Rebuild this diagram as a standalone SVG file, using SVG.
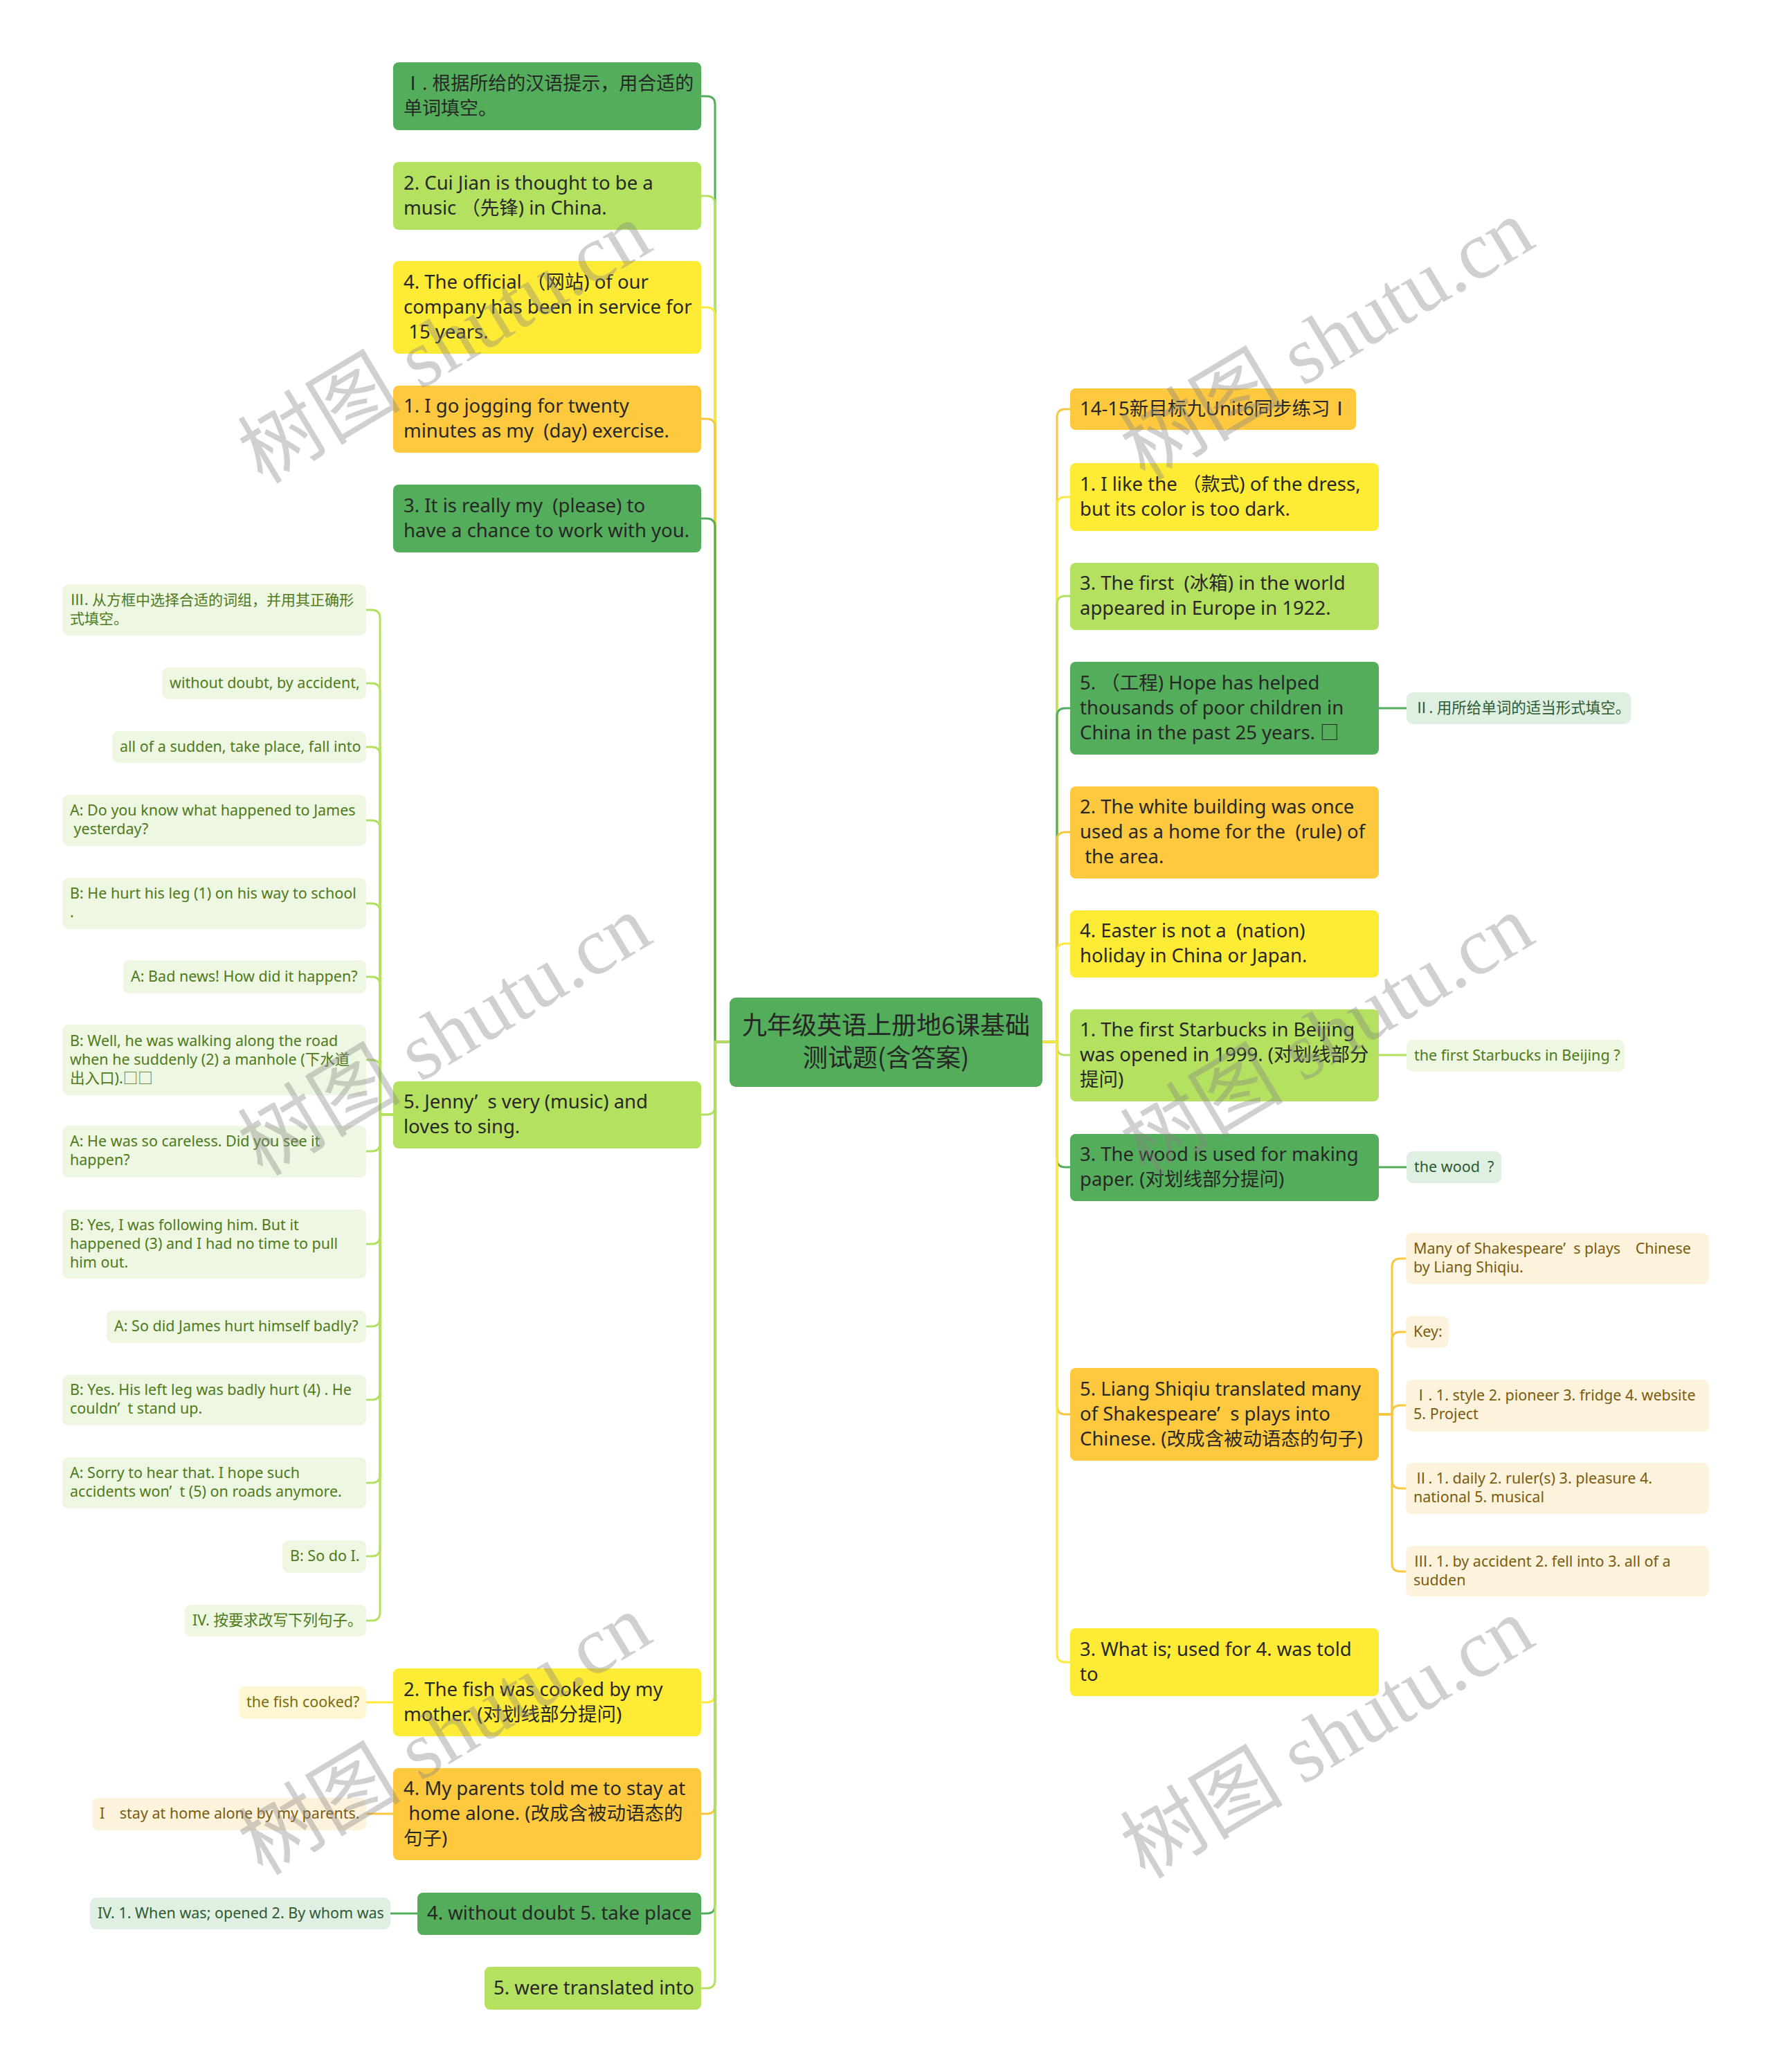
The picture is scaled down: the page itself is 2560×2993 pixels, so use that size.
<svg xmlns="http://www.w3.org/2000/svg" width="2560" height="2993" viewBox="0 0 2560 2993">
<style>
.bgG{fill:#53ad5b}.bgLG{fill:#b4e15f}.bgY{fill:#feeb35}.bgO{fill:#fec93f}
.m{font-family:"Noto Sans","Noto Sans CJK SC",sans-serif;font-size:27.5px;fill:#272727}
.root{font-family:"Noto Sans CJK SC","Noto Sans",sans-serif;font-size:36px;fill:#262626}
.lf{font-family:"Noto Sans","Noto Sans CJK SC",sans-serif;font-size:21.5px}
.cj{font-family:"Noto Sans CJK SC",sans-serif}
.lLG{fill:#eef7e1}.tLG{fill:#4e7a1b}
.lG{fill:#dfefe1}.tG{fill:#2e5b31}
.lY{fill:#fdf8d3}.tY{fill:#7a6b0e}
.lO{fill:#fdf3dc}.tO{fill:#7b5b10}
.c{fill:none;stroke-width:3;stroke-linecap:round}
.cG{stroke:#53ad5b}.cLG{stroke:#b4e15f}.cY{stroke:#fde93a}.cO{stroke:#f9c641}
.wm{font-family:"Liberation Serif","Noto Sans CJK SC",serif;font-size:118px;fill:#858585;opacity:0.38}
</style>
<rect width="2560" height="2993" fill="#ffffff"/>
<g id="connectors">
<path class="c cG" d="M1054 1505 H1033 V151 Q1033 139 1021 139 H1013"/>
<path class="c cLG" d="M1054 1505 H1033 V295 Q1033 283 1021 283 H1013"/>
<path class="c cY" d="M1054 1505 H1033 V456 Q1033 444 1021 444 H1013"/>
<path class="c cO" d="M1054 1505 H1033 V617 Q1033 605 1021 605 H1013"/>
<path class="c cG" d="M1054 1505 H1033 V761 Q1033 749 1021 749 H1013"/>
<path class="c cLG" d="M1054 1505 H1033 V1598 Q1033 1610 1021 1610 H1013"/>
<path class="c cY" d="M1054 1505 H1033 V2447 Q1033 2459 1021 2459 H1013"/>
<path class="c cO" d="M1054 1505 H1033 V2608 Q1033 2620 1021 2620 H1013"/>
<path class="c cG" d="M1054 1505 H1033 V2752 Q1033 2764 1021 2764 H1013"/>
<path class="c cLG" d="M1054 1505 H1033 V2860 Q1033 2872 1021 2872 H1013"/>
<path class="c cO" d="M1506 1505 H1527 V603 Q1527 591 1539 591 H1546"/>
<path class="c cY" d="M1506 1505 H1527 V730 Q1527 718 1539 718 H1546"/>
<path class="c cLG" d="M1506 1505 H1527 V873 Q1527 861 1539 861 H1546"/>
<path class="c cG" d="M1506 1505 H1527 V1035 Q1527 1023 1539 1023 H1546"/>
<path class="c cO" d="M1506 1505 H1527 V1214 Q1527 1202 1539 1202 H1546"/>
<path class="c cY" d="M1506 1505 H1527 V1375 Q1527 1363 1539 1363 H1546"/>
<path class="c cLG" d="M1506 1505 H1527 V1512 Q1527 1524 1539 1524 H1546"/>
<path class="c cG" d="M1506 1505 H1527 V1674 Q1527 1686 1539 1686 H1546"/>
<path class="c cO" d="M1506 1505 H1527 V2031 Q1527 2043 1539 2043 H1546"/>
<path class="c cY" d="M1506 1505 H1527 V2389 Q1527 2401 1539 2401 H1546"/>
<path class="c cLG" d="M568 1610 H549 V893 Q549 881 537 881 H529"/>
<path class="c cLG" d="M568 1610 H549 V999 Q549 987 537 987 H529"/>
<path class="c cLG" d="M568 1610 H549 V1091 Q549 1079 537 1079 H529"/>
<path class="c cLG" d="M568 1610 H549 V1197 Q549 1185 537 1185 H529"/>
<path class="c cLG" d="M568 1610 H549 V1317 Q549 1305 537 1305 H529"/>
<path class="c cLG" d="M568 1610 H549 V1423 Q549 1411 537 1411 H529"/>
<path class="c cLG" d="M568 1610 H549 V1543 Q549 1531 537 1531 H529"/>
<path class="c cLG" d="M568 1610 H549 V1651 Q549 1663 537 1663 H529"/>
<path class="c cLG" d="M568 1610 H549 V1785 Q549 1797 537 1797 H529"/>
<path class="c cLG" d="M568 1610 H549 V1904 Q549 1916 537 1916 H529"/>
<path class="c cLG" d="M568 1610 H549 V2010 Q549 2022 537 2022 H529"/>
<path class="c cLG" d="M568 1610 H549 V2130 Q549 2142 537 2142 H529"/>
<path class="c cLG" d="M568 1610 H549 V2236 Q549 2248 537 2248 H529"/>
<path class="c cLG" d="M568 1610 H549 V2329 Q549 2341 537 2341 H529"/>
<path class="c cG" d="M1992 1023 H2032"/>
<path class="c cLG" d="M1992 1524 H2032"/>
<path class="c cG" d="M1992 1686 H2032"/>
<path class="c cO" d="M1992 2043 H2011 V1830 Q2011 1818 2023 1818 H2031"/>
<path class="c cO" d="M1992 2043 H2011 V1936 Q2011 1924 2023 1924 H2031"/>
<path class="c cO" d="M1992 2043 H2011 V2042 Q2011 2030 2023 2030 H2031"/>
<path class="c cO" d="M1992 2043 H2011 V2138 Q2011 2150 2023 2150 H2031"/>
<path class="c cO" d="M1992 2043 H2011 V2258 Q2011 2270 2023 2270 H2031"/>
<path class="c cY" d="M568 2459 H529"/>
<path class="c cO" d="M568 2620 H529"/>
<path class="c cG" d="M603 2764 H564"/>
</g>
<g id="root"><rect class="bgG" x="1054" y="1441" width="452" height="129" rx="9"/><text class="root" text-anchor="middle"><tspan x="1280" y="1494">九年级英语上册地6课基础</tspan><tspan x="1280" y="1541">测试题(含答案)</tspan></text></g>
<g id="l1"><rect class="bgG" x="568" y="90" width="445" height="98" rx="8"/><text class="m" style="font-size:27px"><tspan x="583" y="130"><tspan class="cj">Ⅰ</tspan>. 根据所给的汉语提示，用合适的</tspan><tspan x="583" y="166">单词填空。</tspan></text></g>
<g id="l2"><rect class="bgLG" x="568" y="234" width="445" height="98" rx="8"/><text class="m"><tspan x="583" y="274">2. Cui Jian is thought to be a</tspan><tspan x="583" y="310">music （先锋) in China.</tspan></text></g>
<g id="l3"><rect class="bgY" x="568" y="377" width="445" height="134" rx="8"/><text class="m"><tspan x="583" y="417">4. The official （网站) of our</tspan><tspan x="583" y="453">company has been in service for</tspan><tspan x="583" y="489">&#160;15 years.</tspan></text></g>
<g id="l4"><rect class="bgO" x="568" y="557" width="445" height="97" rx="8"/><text class="m"><tspan x="583" y="596">1. I go jogging for twenty</tspan><tspan x="583" y="632">minutes as my &#160;(day) exercise.</tspan></text></g>
<g id="l5"><rect class="bgG" x="568" y="700" width="445" height="98" rx="8"/><text class="m"><tspan x="583" y="740">3. It is really my &#160;(please) to</tspan><tspan x="583" y="776">have a chance to work with you.</tspan></text></g>
<g id="l6"><rect class="bgLG" x="568" y="1562" width="445" height="97" rx="8"/><text class="m"><tspan x="583" y="1601">5. Jenny’ &#160;s very (music) and</tspan><tspan x="583" y="1637">loves to sing.</tspan></text></g>
<g id="l7"><rect class="bgY" x="568" y="2410" width="445" height="98" rx="8"/><text class="m"><tspan x="583" y="2450">2. The fish was cooked by my</tspan><tspan x="583" y="2486">mother. (对划线部分提问)</tspan></text></g>
<g id="l8"><rect class="bgO" x="568" y="2554" width="445" height="133" rx="8"/><text class="m"><tspan x="583" y="2593">4. My parents told me to stay at</tspan><tspan x="583" y="2629">&#160;home alone. (改成含被动语态的</tspan><tspan x="583" y="2665">句子)</tspan></text></g>
<g id="l9"><rect class="bgG" x="603" y="2734" width="410" height="61" rx="8"/><text class="m"><tspan x="617" y="2773">4. without doubt 5. take place</tspan></text></g>
<g id="l10"><rect class="bgLG" x="700" y="2841" width="313" height="62" rx="8"/><text class="m"><tspan x="713" y="2881">5. were translated into</tspan></text></g>
<g id="r1"><rect class="bgO" x="1546" y="561" width="413" height="60" rx="8"/><text class="m"><tspan x="1560" y="600">14-15新目标九Unit6同步练习<tspan class="cj">Ⅰ</tspan></tspan></text></g>
<g id="r2"><rect class="bgY" x="1546" y="669" width="446" height="98" rx="8"/><text class="m"><tspan x="1560" y="709">1. I like the （款式) of the dress,</tspan><tspan x="1560" y="745">but its color is too dark.</tspan></text></g>
<g id="r3"><rect class="bgLG" x="1546" y="813" width="446" height="97" rx="8"/><text class="m"><tspan x="1560" y="852">3. The first &#160;(冰箱) in the world</tspan><tspan x="1560" y="888">appeared in Europe in 1922.</tspan></text></g>
<g id="r4"><rect class="bgG" x="1546" y="956" width="446" height="134" rx="8"/><text class="m"><tspan x="1560" y="996">5. （工程) Hope has helped</tspan><tspan x="1560" y="1032">thousands of poor children in</tspan><tspan x="1560" y="1068">China in the past 25 years. □</tspan></text></g>
<g id="r5"><rect class="bgO" x="1546" y="1136" width="446" height="133" rx="8"/><text class="m"><tspan x="1560" y="1175">2. The white building was once</tspan><tspan x="1560" y="1211">used as a home for the &#160;(rule) of</tspan><tspan x="1560" y="1247">&#160;the area.</tspan></text></g>
<g id="r6"><rect class="bgY" x="1546" y="1315" width="446" height="97" rx="8"/><text class="m"><tspan x="1560" y="1354">4. Easter is not a &#160;(nation)</tspan><tspan x="1560" y="1390">holiday in China or Japan.</tspan></text></g>
<g id="r7"><rect class="bgLG" x="1546" y="1458" width="446" height="133" rx="8"/><text class="m"><tspan x="1560" y="1497">1. The first Starbucks in Beijing</tspan><tspan x="1560" y="1533">was opened in 1999. (对划线部分</tspan><tspan x="1560" y="1569">提问)</tspan></text></g>
<g id="r8"><rect class="bgG" x="1546" y="1638" width="446" height="97" rx="8"/><text class="m"><tspan x="1560" y="1677">3. The wood is used for making</tspan><tspan x="1560" y="1713">paper. (对划线部分提问)</tspan></text></g>
<g id="r9"><rect class="bgO" x="1546" y="1976" width="446" height="134" rx="8"/><text class="m"><tspan x="1560" y="2016">5. Liang Shiqiu translated many</tspan><tspan x="1560" y="2052">of Shakespeare’ &#160;s plays into</tspan><tspan x="1560" y="2088">Chinese. (改成含被动语态的句子)</tspan></text></g>
<g id="r10"><rect class="bgY" x="1546" y="2352" width="446" height="98" rx="8"/><text class="m"><tspan x="1560" y="2392">3. What is; used for 4. was told</tspan><tspan x="1560" y="2428">to</tspan></text></g>
<g id="a1"><rect class="lLG" x="90" y="844" width="439" height="74" rx="9"/><text class="lf tLG" style="font-size:21px"><tspan x="101" y="874"><tspan class="cj">Ⅲ</tspan>. 从方框中选择合适的词组，并用其正确形</tspan><tspan x="101" y="901">式填空。</tspan></text></g>
<g id="a2"><rect class="lLG" x="234" y="964" width="295" height="46" rx="9"/><text class="lf tLG"><tspan x="245" y="994">without doubt, by accident,</tspan></text></g>
<g id="a3"><rect class="lLG" x="162" y="1056" width="367" height="46" rx="9"/><text class="lf tLG"><tspan x="173" y="1086">all of a sudden, take place, fall into</tspan></text></g>
<g id="a4"><rect class="lLG" x="90" y="1148" width="439" height="74" rx="9"/><text class="lf tLG"><tspan x="101" y="1178">A: Do you know what happened to James</tspan><tspan x="101" y="1205">&#160;yesterday?</tspan></text></g>
<g id="a5"><rect class="lLG" x="90" y="1268" width="439" height="74" rx="9"/><text class="lf tLG"><tspan x="101" y="1298">B: He hurt his leg (1) on his way to school</tspan><tspan x="101" y="1325">.</tspan></text></g>
<g id="a6"><rect class="lLG" x="178" y="1387" width="351" height="48" rx="9"/><text class="lf tLG"><tspan x="189" y="1418">A: Bad news! How did it happen?</tspan></text></g>
<g id="a7"><rect class="lLG" x="90" y="1480" width="439" height="102" rx="9"/><text class="lf tLG"><tspan x="101" y="1511">B: Well, he was walking along the road</tspan><tspan x="101" y="1538">when he suddenly (2) a manhole (下水道</tspan><tspan x="101" y="1565">出入口).□□</tspan></text></g>
<g id="a8"><rect class="lLG" x="90" y="1626" width="439" height="75" rx="9"/><text class="lf tLG"><tspan x="101" y="1656">A: He was so careless. Did you see it</tspan><tspan x="101" y="1683">happen?</tspan></text></g>
<g id="a9"><rect class="lLG" x="90" y="1747" width="439" height="100" rx="9"/><text class="lf tLG"><tspan x="101" y="1777">B: Yes, I was following him. But it</tspan><tspan x="101" y="1804">happened (3) and I had no time to pull</tspan><tspan x="101" y="1831">him out.</tspan></text></g>
<g id="a10"><rect class="lLG" x="154" y="1893" width="375" height="47" rx="9"/><text class="lf tLG"><tspan x="165" y="1923">A: So did James hurt himself badly?</tspan></text></g>
<g id="a11"><rect class="lLG" x="90" y="1986" width="439" height="73" rx="9"/><text class="lf tLG"><tspan x="101" y="2015">B: Yes. His left leg was badly hurt (4) . He</tspan><tspan x="101" y="2042">couldn’ &#160;t stand up.</tspan></text></g>
<g id="a12"><rect class="lLG" x="90" y="2105" width="439" height="74" rx="9"/><text class="lf tLG"><tspan x="101" y="2135">A: Sorry to hear that. I hope such</tspan><tspan x="101" y="2162">accidents won’ &#160;t (5) on roads anymore.</tspan></text></g>
<g id="a13"><rect class="lLG" x="408" y="2225" width="121" height="47" rx="9"/><text class="lf tLG"><tspan x="419" y="2255">B: So do I.</tspan></text></g>
<g id="a14"><rect class="lLG" x="267" y="2318" width="262" height="46" rx="9"/><text class="lf tLG"><tspan x="278" y="2348">IV. 按要求改写下列句子。</tspan></text></g>
<g id="b1"><rect class="lY" x="345" y="2436" width="184" height="47" rx="9"/><text class="lf tY"><tspan x="356" y="2466">the fish cooked?</tspan></text></g>
<g id="b2"><rect class="lO" x="133" y="2597" width="396" height="47" rx="9"/><text class="lf tO"><tspan x="144" y="2627">I　stay at home alone by my parents.</tspan></text></g>
<g id="b3"><rect class="lG" x="130" y="2741" width="434" height="46" rx="9"/><text class="lf tG"><tspan x="141" y="2771">IV. 1. When was; opened 2. By whom was</tspan></text></g>
<g id="c1"><rect class="lG" x="2032" y="1000" width="324" height="46" rx="9"/><text class="lf tG"><tspan x="2043" y="1030"><tspan class="cj">Ⅱ</tspan>. 用所给单词的适当形式填空。</tspan></text></g>
<g id="c2"><rect class="lLG" x="2032" y="1502" width="315" height="46" rx="9"/><text class="lf tLG"><tspan x="2043" y="1532">the first Starbucks in Beijing ?</tspan></text></g>
<g id="c3"><rect class="lG" x="2032" y="1663" width="137" height="46" rx="9"/><text class="lf tG"><tspan x="2043" y="1693">the wood &#160;?</tspan></text></g>
<g id="d1"><rect class="lO" x="2031" y="1781" width="438" height="74" rx="9"/><text class="lf tO"><tspan x="2042" y="1811">Many of Shakespeare’ &#160;s plays　Chinese</tspan><tspan x="2042" y="1838">by Liang Shiqiu.</tspan></text></g>
<g id="d2"><rect class="lO" x="2031" y="1901" width="62" height="46" rx="9"/><text class="lf tO"><tspan x="2042" y="1931">Key:</tspan></text></g>
<g id="d3"><rect class="lO" x="2031" y="1993" width="438" height="75" rx="9"/><text class="lf tO"><tspan x="2042" y="2023"><tspan class="cj">Ⅰ</tspan>. 1. style 2. pioneer 3. fridge 4. website</tspan><tspan x="2042" y="2050">5. Project</tspan></text></g>
<g id="d4"><rect class="lO" x="2031" y="2113" width="438" height="74" rx="9"/><text class="lf tO"><tspan x="2042" y="2143"><tspan class="cj">Ⅱ</tspan>. 1. daily 2. ruler(s) 3. pleasure 4.</tspan><tspan x="2042" y="2170">national 5. musical</tspan></text></g>
<g id="d5"><rect class="lO" x="2031" y="2233" width="438" height="73" rx="9"/><text class="lf tO"><tspan x="2042" y="2263"><tspan class="cj">Ⅲ</tspan>. 1. by accident 2. fell into 3. all of a</tspan><tspan x="2042" y="2290">sudden</tspan></text></g>
<g id="watermarks">
<text class="wm" text-anchor="middle" transform="translate(663 530) rotate(-31)">树图 shutu.cn</text>
<text class="wm" text-anchor="middle" transform="translate(1938 525) rotate(-31)">树图 shutu.cn</text>
<text class="wm" text-anchor="middle" transform="translate(663 1530) rotate(-31)">树图 shutu.cn</text>
<text class="wm" text-anchor="middle" transform="translate(1938 1530) rotate(-31)">树图 shutu.cn</text>
<text class="wm" text-anchor="middle" transform="translate(663 2540) rotate(-31)">树图 shutu.cn</text>
<text class="wm" text-anchor="middle" transform="translate(1938 2545) rotate(-31)">树图 shutu.cn</text>
</g>
</svg>
